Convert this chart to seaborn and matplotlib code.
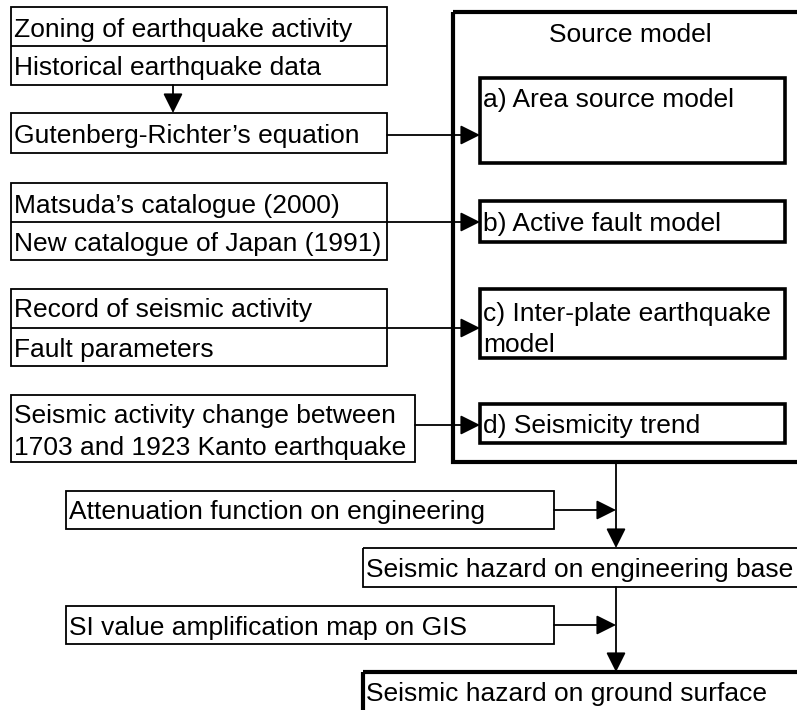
import matplotlib
matplotlib.use("Agg")
import matplotlib.pyplot as plt
from matplotlib.patches import Rectangle
import seaborn as sns

sns.set_theme(style="white")
plt.rcParams['font.family'] = ['Liberation Sans', 'DejaVu Sans']

# ---- text content ----
input_group1 = ["Zoning of earthquake activity", "Historical earthquake data"]
gr_label = "Gutenberg-Richter\u2019s equation"
input_group2 = ["Matsuda\u2019s catalogue (2000)", "New catalogue of Japan (1991)"]
input_group3 = ["Record of seismic activity", "Fault parameters"]
input_group4 = ["Seismic activity change between", "1703 and 1923 Kanto earthquake"]
source_title = "Source model"
models = ["a) Area source model", "b) Active fault model",
          "c) Inter-plate earthquake", "model", "d) Seismicity trend"]
lower_inputs = ["Attenuation function on engineering", "SI value amplification map on GIS"]
results = ["Seismic hazard on engineering base", "Seismic hazard on ground surface"]

W, H = 797, 710
fig = plt.figure(figsize=(W / 100, H / 100), dpi=100)
ax = fig.add_axes([0, 0, 1, 1])
ax.set_xlim(0, W)
ax.set_ylim(H, 0)
ax.axis("off")

THIN = 1.3
THICK = 2.6
FS = 19


def box(x0, y0, x1, y1, lw=THIN):
    ax.add_patch(Rectangle((x0, y0), x1 - x0, y1 - y0, fill=False,
                           edgecolor="black", linewidth=lw, joinstyle="miter",
                           clip_on=True))


def txt(x, y, s, ha="left"):
    ax.text(x, y, s, fontsize=FS, ha=ha, va="center_baseline", color="black")


def hline(x0, x1, y, lw=THIN):
    ax.plot([x0, x1], [y, y], color="black", lw=lw, solid_capstyle="butt")


def arrow(x0, y0, x1, y1):
    ax.annotate("", xy=(x1, y1), xytext=(x0, y0),
                arrowprops=dict(arrowstyle="-|>,head_length=0.6,head_width=0.3",
                                mutation_scale=20, color="black", lw=THIN,
                                shrinkA=0, shrinkB=0))


# Source model outer box
box(453, 12, 830, 462, lw=3.0)
txt(630, 33, source_title, ha="center")

# model boxes
box(480, 78, 785, 163, lw=THICK)
txt(483, 97, models[0])
box(480, 201, 785, 242, lw=THICK)
txt(483, 222, models[1])
box(480, 289, 785, 358, lw=THICK)
txt(483, 312, models[2])
txt(483, 342, models[3])
box(480, 404, 785, 443, lw=THICK)
txt(483, 423, models[4])

# group 1
box(11, 7, 387, 85)
hline(11, 387, 46)
txt(14, 27, input_group1[0])
txt(14, 66, input_group1[1])
arrow(173, 85, 173, 113)
box(11, 113, 387, 153)
txt(14, 134, gr_label)
arrow(387, 135, 480, 135)

# group 2
box(11, 183, 387, 260)
hline(11, 387, 222)
txt(14, 203, input_group2[0])
txt(14, 241, input_group2[1])
arrow(387, 222, 480, 222)

# group 3
box(11, 289, 387, 366)
hline(11, 387, 328)
txt(14, 308, input_group3[0])
txt(14, 347, input_group3[1])
arrow(387, 328, 480, 328)

# group 4
box(11, 395, 415, 462)
txt(14, 413, input_group4[0])
txt(14, 445, input_group4[1])
arrow(415, 425, 480, 425)

# lower flow
VX = 616
box(66, 491, 554, 529)
txt(69, 510, lower_inputs[0])
arrow(554, 510, VX, 510)
arrow(VX, 462, VX, 548)
box(363, 548, 830, 587)
txt(366, 567, results[0])

box(66, 606, 554, 644)
txt(69, 625, lower_inputs[1])
arrow(554, 625, VX, 625)
arrow(VX, 587, VX, 672)
box(363, 672, 830, 740, lw=3.0)
txt(366, 691, results[1])

fig.savefig("out.png", dpi=100)
